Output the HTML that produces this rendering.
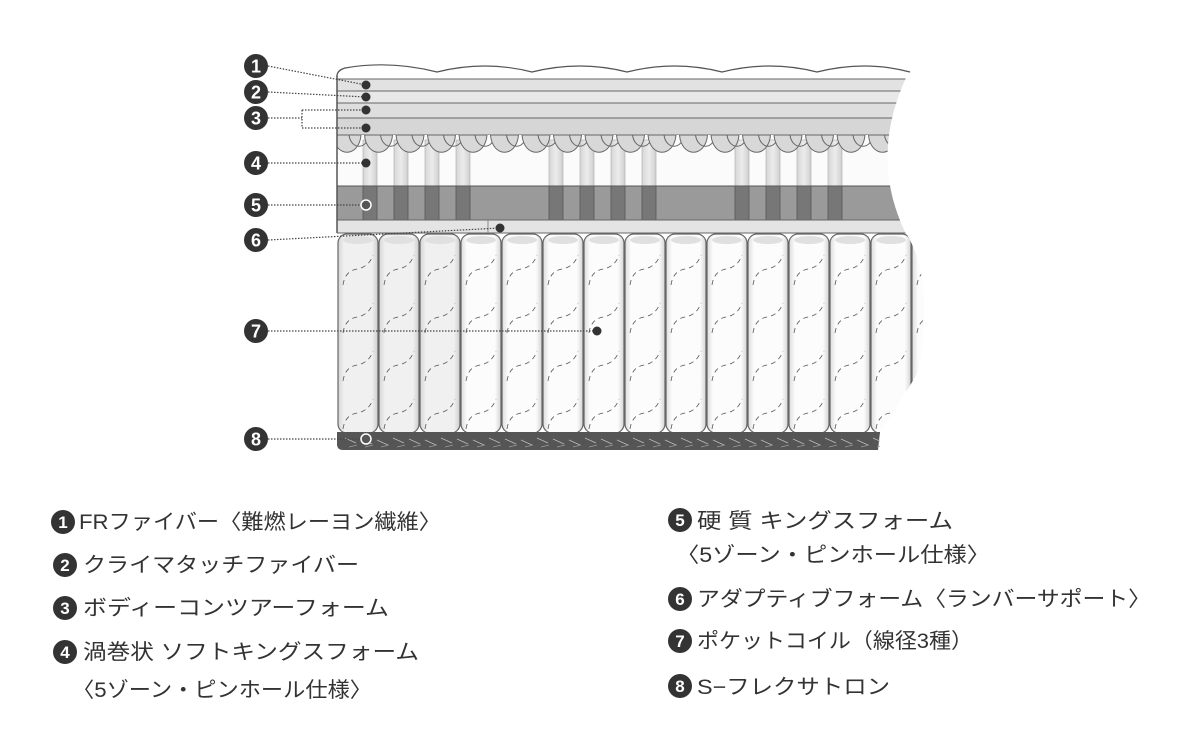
<!DOCTYPE html>
<html><head><meta charset="utf-8"><style>
html,body{margin:0;padding:0;background:#fff;width:1200px;height:747px;overflow:hidden}
svg{display:block}
text{font-family:"Liberation Sans","Noto Sans CJK JP",sans-serif}
</style></head><body>
<svg id="s" width="1200" height="747" viewBox="0 0 1200 747" xmlns="http://www.w3.org/2000/svg">
<defs>
<clipPath id="cl"><path d="M337,60 L915,60 Q865,150 906,234 L337,234 Z"/></clipPath>
<clipPath id="cc"><path d="M337,233 L906,233 Q935,280 918,372 Q905,395 880,432 L880,452 L337,452 Z"/></clipPath>
<linearGradient id="cg" x1="0" x2="1"><stop offset="0" stop-color="#dcdcdc"/><stop offset="0.15" stop-color="#fcfcfc"/><stop offset="0.85" stop-color="#fcfcfc"/><stop offset="1" stop-color="#d4d4d4"/></linearGradient>
<linearGradient id="cg2" x1="0" x2="1"><stop offset="0" stop-color="#d4d4d4"/><stop offset="0.15" stop-color="#f0f0f0"/><stop offset="0.85" stop-color="#f0f0f0"/><stop offset="1" stop-color="#cccccc"/></linearGradient>
<linearGradient id="pg" x1="0" x2="1"><stop offset="0" stop-color="#d6d6d6"/><stop offset="0.5" stop-color="#ececec"/><stop offset="1" stop-color="#cfcfcf"/></linearGradient>
</defs>
<g id="layers" clip-path="url(#cl)">
 <rect x="337" y="60" width="600" height="175" fill="#fff"/>
 <rect x="337" y="79" width="600" height="12" fill="#e2e2e2" stroke="#666" stroke-width="1"/>
 <rect x="337" y="91" width="600" height="12" fill="#e8e8e8" stroke="#666" stroke-width="1"/>
 <rect x="337" y="103" width="600" height="15" fill="#dedede" stroke="#666" stroke-width="1"/>
 <rect x="337" y="118" width="600" height="17" fill="#d6d6d6" stroke="#666" stroke-width="1"/>
 <rect x="337" y="135" width="600" height="51" fill="#fbfbfb"/>
 <g id="pil"></g>
 <g id="scal"></g>
 <rect x="337" y="186" width="600" height="34" fill="#9a9a9a" stroke="#555" stroke-width="1"/>
 <g id="pil5"></g>
 <rect x="337" y="220" width="600" height="13" fill="#e4e4e4" stroke="#666" stroke-width="1"/>
 <line x1="488" y1="220" x2="488" y2="233" stroke="#888"/>
</g>
<path d="M337,75 Q338,70 345,68 Q390,60 437,72 Q485,60 532,72 Q580,60 627,72 Q675,60 722,72 Q770,60 817,72 Q865,60 910,72" fill="none" stroke="#555" stroke-width="1.2"/>
<line x1="337" y1="75" x2="337" y2="233" stroke="#555" stroke-width="1.5"/>
<g id="coils" clip-path="url(#cc)"></g>
<g id="lab"></g>
<g fill="#333" font-size="21">
 <text x="79" y="529" textLength="362" lengthAdjust="spacingAndGlyphs">FRファイバー〈難燃レーヨン繊維〉</text>
 <text x="83" y="572" textLength="276" lengthAdjust="spacingAndGlyphs">クライマタッチファイバー</text>
 <text x="83" y="615" textLength="306" lengthAdjust="spacingAndGlyphs">ボディーコンツアーフォーム</text>
 <text x="83" y="659" textLength="336" lengthAdjust="spacingAndGlyphs">渦巻状 ソフトキングスフォーム</text>
 <text x="72" y="697" textLength="300" lengthAdjust="spacingAndGlyphs">〈5ゾーン・ピンホール仕様〉</text>
 <text x="697" y="528" textLength="256" lengthAdjust="spacingAndGlyphs">硬 質 キングスフォーム</text>
 <text x="676" y="562" textLength="314" lengthAdjust="spacingAndGlyphs">〈5ゾーン・ピンホール仕様〉</text>
 <text x="697" y="606" textLength="454" lengthAdjust="spacingAndGlyphs">アダプティブフォーム〈ランバーサポート〉</text>
 <text x="697" y="648" textLength="276" lengthAdjust="spacingAndGlyphs">ポケットコイル（線径3種）</text>
 <text x="697" y="694" textLength="193" lengthAdjust="spacingAndGlyphs">S−フレクサトロン</text>
</g>
<g id="leg"></g>
</svg>
<script>
var NS="http://www.w3.org/2000/svg";
function el(p,t,a,txt){var e=document.createElementNS(NS,t);for(var k in a)e.setAttribute(k,a[k]);if(txt)e.textContent=txt;document.getElementById(p).appendChild(e);return e;}
// scallops: overlapping lobes
for(var x=337;x<930;x+=31.5){
 el("scal","path",{d:"M"+(x-4)+",135 C"+(x-2)+",158 "+(x+22)+",158 "+(x+24)+",135 Z",fill:"#d8d8d8",stroke:"#666","stroke-width":"1"});
 el("scal","path",{d:"M"+(x+12)+",135 C"+(x+14)+",150 "+(x+30)+",150 "+(x+32)+",135",fill:"none",stroke:"#666","stroke-width":"1"});
}
var P=[370,401,432,463,556,587,618,649,742,773,804,835];
P.forEach(function(c){el("pil","rect",{x:c-7,y:140,width:14,height:47,fill:"url(#pg)",stroke:"#aaa","stroke-width":"0.6"});
 el("pil5","rect",{x:c-7,y:186,width:14,height:34,fill:"#777",stroke:"#555","stroke-width":"0.8"});});
// coils
for(var i=0;i<15;i++){var x=337+i*41;
 el("coils","rect",{x:x+1,y:234,width:40,height:199,rx:9,fill:i<3?"url(#cg2)":"url(#cg)",stroke:"#666","stroke-width":"1.2"});
 el("coils","ellipse",{cx:x+21,cy:240,rx:15,ry:4,fill:"#e0e0e0"});
 for(var j=0;j<4;j++){var y=265+j*48;
  el("coils","path",{d:"M"+(x+6)+","+(y+20)+" Q"+(x+8)+","+(y+6)+" "+(x+20)+","+(y+4)+" Q"+(x+32)+","+(y+2)+" "+(x+36)+","+(y-10),fill:"none",stroke:"#555","stroke-width":"0.8","stroke-dasharray":"5 4"});}
}
el("coils","path",{d:"M337,432 L880,432 L878,450 L343,450 Q337,450 337,444 Z",fill:"#555"});
for(var x=345;x<880;x+=16){el("coils","line",{x1:x,y1:438+(x%3),x2:x+11,y2:443+(x%3),stroke:"#bbb","stroke-width":"0.8"});
 el("coils","line",{x1:x+4,y1:447,x2:x+12,y2:445,stroke:"#999","stroke-width":"0.8"});}
// labels
function num(g,cx,cy,n,r,fs){el(g,"circle",{cx:cx,cy:cy,r:r,fill:"#333"});el(g,"text",{x:cx,y:cy+fs*0.36,"text-anchor":"middle","font-size":fs,"font-weight":"bold",fill:"#fff"},n);}
var dot={stroke:"#444","stroke-width":"1.2","stroke-dasharray":"1.5 1.5",fill:"none"};
function ln(d){var a=Object.assign({d:d},dot);el("lab","path",a);}
ln("M268,66 L366,85");ln("M268,92 L366,97");ln("M268,118 L302,118 M302,110 L302,128 M302,110 L366,110 M302,128 L366,128");
ln("M268,163 L366,163");ln("M268,205 L366,205");ln("M268,240 L500,228");ln("M268,331 L597,331");ln("M268,439 L366,439");
[[366,85],[366,97],[366,110],[366,128],[366,163],[500,228],[597,331]].forEach(function(p){el("lab","circle",{cx:p[0],cy:p[1],r:4.5,fill:"#333"});});
el("lab","circle",{cx:366,cy:205,r:5,fill:"#555",stroke:"#fff","stroke-width":"1.5"});
el("lab","circle",{cx:366,cy:439,r:5,fill:"#555",stroke:"#fff","stroke-width":"1.5"});
[[66,"1"],[92,"2"],[118,"3"],[163,"4"],[205,"5"],[240,"6"],[331,"7"],[439,"8"]].forEach(function(a){num("lab",256,a[0],a[1],12,18);});
[[63,522,"1"],[65,565,"2"],[65,608,"3"],[65,652,"4"],[680,520,"5"],[680,599,"6"],[680,641,"7"],[680,686,"8"]].forEach(function(a){num("leg",a[0],a[1],a[2],12,17);});
</script>
</body></html>
